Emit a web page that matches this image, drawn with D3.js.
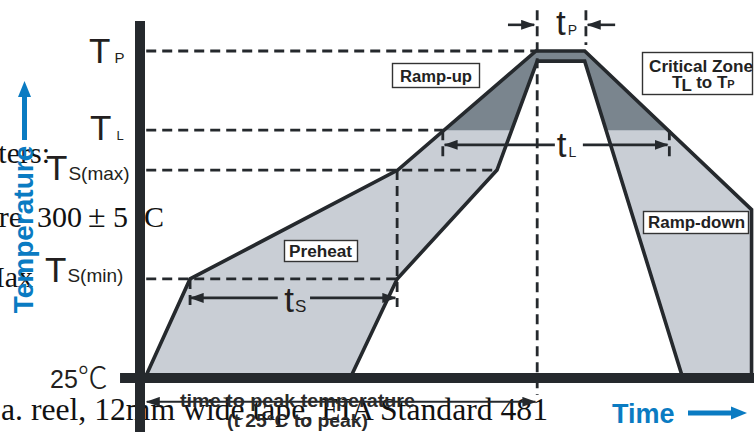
<!DOCTYPE html>
<html>
<head>
<meta charset="utf-8">
<script src="https://cdn.jsdelivr.net/npm/d3@7"></script>
<style>
  body { margin: 0; background: #fff; }
  svg { display: block; }
</style>
</head>
<body>
<svg id="chart"></svg>
<script>
// reflow profile, relative units: time 0-100, temperature 0-100 (25℃ = 0, Tp = 100)
const outerProfile = [[0, 0], [7.4, 30.3], [41.5, 63.6], [64.2, 100], [72.2, 100], [99.6, 51.5], [99.6, 0]];
const innerProfile = [[33.7, 0], [41.4, 30.3], [57.8, 63.6], [64.4, 96.9], [72.2, 96.9], [88.3, 0]];

const levelNames = ["25℃", "TS(min)", "TS(max)", "TL", "TP"];
const levelValues = [0, 30.3, 63.6, 75.8, 100];

// dashed guides: [level, t0, t1] and [t, level0, level1]
const hGuides = [[100, 0.2, 64.2], [75.8, 0.2, 48.9], [63.6, 0.2, 57.8], [30.3, 0.2, 41.4]];
const vGuides = [[7.4, 30.3, 21.7], [41.4, 63.6, 21.7], [48.9, 75.8, 67.3], [86.1, 75.8, 67.3],
                 [64.4, 112.5, -5.2], [72.4, 112.5, 101.8]];

// span arrows: [t0, t1, level, gap0, gap1]
const spanNames = ["tS", "tL"];
const spanArrows = [[7.5, 41.1, 24.5, 21.8, 27.1], [49.2, 85.8, 71.3, 67.3, 71.9]];
const peakArrows = [[59.6, 63.9, 108], [77.2, 72.7, 108]];
const toPeakArrow = [0.3, 64.1, -7.3];

const zoneNames = ["Ramp-up", "Preheat", "Ramp-down"];
const bleedText = ["ters:", "re", "300", "±", "5", "C", "Max", "a. reel, 12mm wide tape, EIA Standard 481"];

const W = 754, H = 432;
const ink = "#25292d", lightFill = "#c9ced5", darkFill = "#7a858e", blue = "#0a7bc2", txt = "#231f20";
const sans = "'Liberation Sans', Arial, sans-serif";
const serif = "'Liberation Serif', 'Times New Roman', serif";

const svg = d3.select("#chart").attr("width", W).attr("height", H);
const x = d3.scaleLinear([0, 100], [145, 754]);
const y = d3.scaleLinear([0, 100], [378, 51]);

const defs = svg.append("defs");
defs.append("marker").attr("id", "head")
    .attr("viewBox", "0 0 14 10").attr("refX", 13).attr("refY", 5)
    .attr("markerWidth", 14).attr("markerHeight", 10)
    .attr("markerUnits", "userSpaceOnUse").attr("orient", "auto-start-reverse")
  .append("path").attr("d", "M0,0 L14,5 L0,10 Z").attr("fill", ink);
defs.append("clipPath").attr("id", "aboveTL")
  .append("rect").attr("x", 0).attr("y", 0).attr("width", W).attr("height", y(levelValues[3]));

// text bleeding through from the page underneath
const bleed = svg.append("g").attr("font-family", serif).attr("font-size", 30).attr("fill", "#111");
bleed.append("text").attr("x", 50).attr("y", 163).attr("text-anchor", "end").text(bleedText[0]);
bleed.append("text").attr("x", 22).attr("y", 227).attr("text-anchor", "end").text(bleedText[1]);
bleed.append("text").attr("x", 37).attr("y", 227).text(bleedText[2]);
bleed.append("text").attr("x", 88).attr("y", 227).attr("font-size", 32).text(bleedText[3]);
bleed.append("text").attr("x", 113).attr("y", 227).text(bleedText[4]);
bleed.append("text").attr("x", 144).attr("y", 227).text(bleedText[5]);
bleed.append("text").attr("x", 33).attr("y", 287).attr("text-anchor", "end").text(bleedText[6]);
bleed.append("text").attr("x", 1).attr("y", 420).attr("font-size", 31)
    .attr("textLength", 547).attr("lengthAdjust", "spacingAndGlyphs").text(bleedText[7]);

// profile band
const line = d3.line().x(d => x(d[0])).y(d => y(d[1]));
const band = outerProfile.concat(innerProfile.slice().reverse());
svg.append("path").attr("d", line(band) + "Z").attr("fill", lightFill);
svg.append("path").attr("d", line(band) + "Z").attr("fill", darkFill).attr("clip-path", "url(#aboveTL)");

// dashed guides
const guides = svg.append("g").attr("stroke", ink).attr("stroke-width", 2.8).attr("stroke-dasharray", "10,6");
guides.selectAll(".h").data(hGuides).join("line")
    .attr("x1", d => x(d[1])).attr("x2", d => x(d[2]))
    .attr("y1", d => y(d[0])).attr("y2", d => y(d[0]));
guides.selectAll(".v").data(vGuides).join("line")
    .attr("x1", d => x(d[0])).attr("x2", d => x(d[0]))
    .attr("y1", d => y(d[1])).attr("y2", d => y(d[2]));

// profile outlines
svg.append("path").attr("d", line(outerProfile)).attr("fill", "none")
    .attr("stroke", ink).attr("stroke-width", 3.6);
svg.append("path").attr("d", line(innerProfile)).attr("fill", "none")
    .attr("stroke", ink).attr("stroke-width", 3.6);

// span arrows
const arrows = svg.append("g").attr("stroke", ink).attr("stroke-width", 2.6);
spanArrows.forEach(a => {
  arrows.append("line").attr("x1", x(a[3])).attr("x2", x(a[0]))
      .attr("y1", y(a[2])).attr("y2", y(a[2])).attr("marker-end", "url(#head)");
  arrows.append("line").attr("x1", x(a[4])).attr("x2", x(a[1]))
      .attr("y1", y(a[2])).attr("y2", y(a[2])).attr("marker-end", "url(#head)");
});
peakArrows.forEach(a => {
  arrows.append("line").attr("x1", x(a[0])).attr("x2", x(a[1]))
      .attr("y1", y(a[2])).attr("y2", y(a[2])).attr("marker-end", "url(#head)");
});
arrows.append("line").attr("x1", x(toPeakArrow[0])).attr("x2", x(toPeakArrow[1]))
    .attr("y1", y(toPeakArrow[2])).attr("y2", y(toPeakArrow[2])).attr("stroke-width", 2)
    .attr("marker-start", "url(#head)").attr("marker-end", "url(#head)");

// span labels (t with subscript)
function tLabel(xs, base, sub, subSize, subDx) {
  const t = svg.append("text").attr("x", xs).attr("y", base)
      .attr("font-family", sans).attr("fill", txt).attr("font-size", 35);
  t.append("tspan").text("t");
  t.append("tspan").attr("dx", subDx).attr("font-size", subSize).text(sub);
}
tLabel(x(21.9) + 6, y(24.5) + 14, spanNames[0].slice(1), 17, 1);
tLabel(x(67.3) + 2, y(71.3) + 12, spanNames[1].slice(1), 14, 2);
tLabel(556, y(108) + 10, "P", 14, 2);

// level labels
const lvl = svg.append("g").attr("font-family", sans).attr("fill", txt);
function levelLabel(xs, base, main, sub, subSize, gap) {
  const t = lvl.append("text").attr("x", xs).attr("y", base).attr("font-size", 35);
  t.append("tspan").text(main);
  t.append("tspan").attr("dx", gap).attr("font-size", subSize).text(sub);
}
levelLabel(89, y(levelValues[4]) + 12, "T", levelNames[4].slice(1), 15, 4);
levelLabel(90, y(levelValues[3]) + 10, "T", levelNames[3].slice(1), 13, 5);
levelLabel(46, y(levelValues[2]) + 10, "T", levelNames[2].slice(1), 19, 1);
levelLabel(45, y(levelValues[1]) + 3, "T", levelNames[1].slice(1), 19, 1);
const t25 = lvl.append("text").attr("x", 50).attr("y", y(levelValues[0]) + 10).attr("font-size", 25);
t25.append("tspan").text(levelNames[0].slice(0, 2));
t25.append("tspan").attr("font-family", "'Noto Sans CJK SC', 'DejaVu Sans', sans-serif")
    .attr("font-size", 30).attr("font-weight", 300).text(levelNames[0].slice(2));

// axis bars
svg.append("line").attr("x1", x(0) - 5).attr("x2", x(0) - 5)
    .attr("y1", y(109.2)).attr("y2", H).attr("stroke", ink).attr("stroke-width", 10);
svg.append("line").attr("x1", x(-4.1)).attr("x2", W)
    .attr("y1", y(0)).attr("y2", y(0)).attr("stroke", ink).attr("stroke-width", 10);

// time to peak caption
const cap = svg.append("g").attr("font-family", sans).attr("font-weight", "bold")
    .attr("fill", "#2a2a2a").attr("font-size", 18);
cap.append("text").attr("x", 180).attr("y", 407).attr("textLength", 235)
    .attr("lengthAdjust", "spacingAndGlyphs").text("time to peak temperature");
cap.append("text").attr("x", 227).attr("y", 427).attr("textLength", 141)
    .attr("lengthAdjust", "spacingAndGlyphs").text("(t 25°C to peak)");

// zone boxes
const boxes = svg.append("g").attr("font-family", sans).attr("font-weight", "bold").attr("font-size", 16);
function zoneBox(bx, by, bw, bh, label, tx, ty, tw) {
  boxes.append("rect").attr("x", bx).attr("y", by).attr("width", bw).attr("height", bh)
      .attr("fill", "#fff").attr("stroke", "#333").attr("stroke-width", 1.4);
  boxes.append("text").attr("x", tx).attr("y", ty).attr("fill", "#222")
      .attr("textLength", tw).attr("lengthAdjust", "spacingAndGlyphs").text(label);
}
zoneBox(392.5, 63.5, 87, 24, zoneNames[0], 400, 82, 72);
zoneBox(284.5, 240.5, 73, 21, zoneNames[1], 289, 257, 63);
zoneBox(643.5, 211.5, 105, 22, zoneNames[2], 648, 228, 97);
boxes.append("rect").attr("x", 642.5).attr("y", 52.5).attr("width", 110).attr("height", 42)
    .attr("fill", "#fff").attr("stroke", "#333").attr("stroke-width", 1.4);
boxes.append("text").attr("x", 649).attr("y", 72).attr("fill", "#222")
    .attr("textLength", 104).attr("lengthAdjust", "spacingAndGlyphs").text("Critical Zone");
const cz = boxes.append("text").attr("x", 672).attr("y", 88).attr("fill", "#222").attr("font-size", 17);
cz.append("tspan").text("T");
cz.append("tspan").attr("dx", -1).attr("dy", 3).text("L");
cz.append("tspan").attr("dy", -3).text(" to T");
cz.append("tspan").attr("font-size", 11).text("P");

// blue axis titles
svg.append("text").attr("transform", "translate(33,229.5) rotate(-90)")
    .attr("text-anchor", "middle").attr("font-family", sans).attr("font-weight", "bold")
    .attr("font-size", 28).attr("fill", blue).text("Temperature");
svg.append("line").attr("x1", 24.5).attr("x2", 24.5).attr("y1", 140).attr("y2", 94)
    .attr("stroke", blue).attr("stroke-width", 5);
svg.append("path").attr("d", "M24.5,81 L31,97 L18,97 Z").attr("fill", blue);

svg.append("text").attr("x", 612).attr("y", 423).attr("font-family", sans).attr("font-weight", "bold")
    .attr("font-size", 27).attr("fill", blue).text("Time");
svg.append("line").attr("x1", 688).attr("x2", 734).attr("y1", 413).attr("y2", 413)
    .attr("stroke", blue).attr("stroke-width", 5);
svg.append("path").attr("d", "M747,413 L731,406.5 L731,419.5 Z").attr("fill", blue);
</script>
</body>
</html>
